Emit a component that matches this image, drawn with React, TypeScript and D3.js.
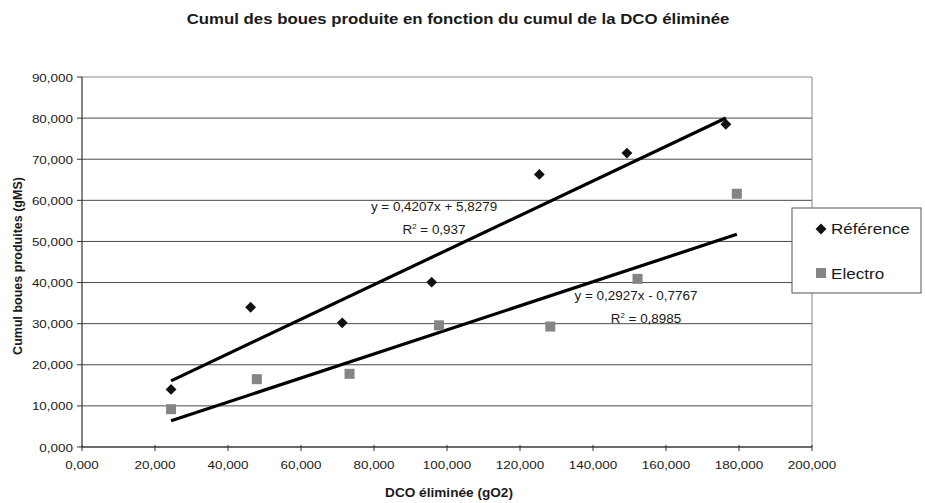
import React from "react";
import * as d3 from "d3";

// series (x = DCO éliminée, y = cumul boues)
const refX = [24.4, 46.2, 71.3, 95.8, 125.3, 149.3, 176.4];
const refY = [14.0, 34.0, 30.2, 40.1, 66.3, 71.5, 78.5];
const elecX = [24.4, 47.9, 73.3, 97.8, 128.3, 152.2, 179.4];
const elecY = [9.2, 16.5, 17.8, 29.6, 29.3, 40.9, 61.6];

// trend line coefficients [slope, intercept] as printed on the chart
const refFit = [0.4207, 5.8279];
const elecFit = [0.2927, -0.7767];

const xTicks = [0, 20, 40, 60, 80, 100, 120, 140, 160, 180, 200];
const yTicks = [0, 10, 20, 30, 40, 50, 60, 70, 80, 90];
const seriesNames = ["Référence", "Electro"];

const W = 925;
const H = 503;
const m = { left: 82, right: 812, top: 77, bottom: 447 };

const fr = d3.formatLocale({ decimal: ",", thousands: " ", grouping: [3], currency: ["", " €"] });
const fmt = fr.format(".3f");

// the scanned chart is a bit wider than plain Arial, so text gets stretched horizontally
function Txt(props: {
  x: number;
  y: number;
  size: number;
  sx?: number;
  anchor?: string;
  bold?: boolean;
  children: any;
}) {
  const { x, y, size, sx = 1.15, anchor = "start", bold, children } = props;
  return (
    <text
      transform={`translate(${x},${y}) scale(${sx},1)`}
      textAnchor={anchor}
      fontSize={size}
      fontWeight={bold ? "bold" : "normal"}
      fill="#1a1a1a"
    >
      {children}
    </text>
  );
}

export default function App() {
  const x = d3.scaleLinear().domain([0, 200]).range([m.left, m.right]);
  const y = d3.scaleLinear().domain([0, 90]).range([m.bottom, m.top]);

  const line = d3
    .line<number[]>()
    .x((d) => x(d[0]))
    .y((d) => y(d[1]));

  const fitLine = (xs: number[], fit: number[]) => {
    const lo = d3.min(xs)!;
    const hi = d3.max(xs)!;
    return line([
      [lo, fit[0] * lo + fit[1]],
      [hi, fit[0] * hi + fit[1]],
    ])!;
  };

  const diamond = d3.symbol().type(d3.symbolDiamond2).size(75)()!;
  const font = "'Liberation Sans', Arial, sans-serif";

  return (
    <svg
      width={W}
      height={H}
      style={{ position: "absolute", left: 0, top: 0, background: "#fff" }}
      fontFamily={font}
    >
      <Txt x={458} y={24} size={15} sx={1.12} anchor="middle" bold>
        Cumul des boues produite en fonction du cumul de la DCO éliminée
      </Txt>

      {/* grid */}
      {yTicks.map((t) => (
        <line
          key={"g" + t}
          x1={m.left}
          x2={m.right}
          y1={y(t)}
          y2={y(t)}
          stroke={t === 90 ? "#888" : "#4a4a4a"}
          strokeWidth={1}
        />
      ))}
      <line x1={m.right} x2={m.right} y1={m.top} y2={m.bottom} stroke="#888" />
      {/* axes */}
      <line x1={m.left} x2={m.left} y1={m.top} y2={m.bottom} stroke="#333" strokeWidth={1.2} />
      <line x1={m.left} x2={m.right} y1={m.bottom} y2={m.bottom} stroke="#333" strokeWidth={1.2} />

      {yTicks.map((t) => (
        <g key={"y" + t}>
          <line x1={m.left - 5} x2={m.left} y1={y(t)} y2={y(t)} stroke="#333" />
          <Txt x={m.left - 9} y={y(t) + 4.5} size={11.5} sx={1.17} anchor="end">
            {fmt(t)}
          </Txt>
        </g>
      ))}
      {xTicks.map((t) => (
        <g key={"x" + t}>
          <line x1={x(t)} x2={x(t)} y1={m.bottom - 2} y2={m.bottom + 4} stroke="#333" />
          <Txt x={x(t)} y={m.bottom + 22} size={11.5} sx={1.17} anchor="middle">
            {fmt(t)}
          </Txt>
        </g>
      ))}

      <text
        transform={`translate(22,266) rotate(-90)`}
        textAnchor="middle"
        fontSize={12.5}
        fontWeight="bold"
        fill="#1a1a1a"
      >
        Cumul boues produites (gMS)
      </text>
      <Txt x={449} y={497} size={12.5} sx={1.09} anchor="middle" bold>
        DCO éliminée (gO2)
      </Txt>

      {/* trend lines */}
      <path d={fitLine(refX, refFit)} stroke="#000" strokeWidth={3.2} fill="none" />
      <path d={fitLine(elecX, elecFit)} stroke="#000" strokeWidth={3.2} fill="none" />

      {/* points */}
      {refX.map((v, i) => (
        <path key={"r" + i} d={diamond} transform={`translate(${x(v)},${y(refY[i])})`} fill="#111" />
      ))}
      {elecX.map((v, i) => (
        <rect
          key={"e" + i}
          x={x(v) - 5}
          y={y(elecY[i]) - 5}
          width={10}
          height={10}
          fill="#858585"
        />
      ))}

      {/* equations */}
      <Txt x={434} y={211} size={12} sx={1.12} anchor="middle">
        y = 0,4207x + 5,8279
      </Txt>
      <Txt x={434} y={234} size={12} sx={1.12} anchor="middle">
        R<tspan dy={-5} fontSize={7}>2</tspan>
        <tspan dy={5}> = 0,937</tspan>
      </Txt>
      <Txt x={636} y={300} size={12} sx={1.12} anchor="middle">
        y = 0,2927x - 0,7767
      </Txt>
      <Txt x={646} y={323} size={12} sx={1.12} anchor="middle">
        R<tspan dy={-5} fontSize={7}>2</tspan>
        <tspan dy={5}> = 0,8985</tspan>
      </Txt>

      {/* legend */}
      <rect x={792} y={208} width={129} height={85} fill="#fff" stroke="#555" strokeWidth={1} />
      <path d={diamond} transform="translate(821,229)" fill="#111" />
      <Txt x={831} y={234} size={15} sx={1.14}>
        {seriesNames[0]}
      </Txt>
      <rect x={816} y={268} width={10} height={10} fill="#858585" />
      <Txt x={831} y={279} size={15} sx={1.14}>
        {seriesNames[1]}
      </Txt>
    </svg>
  );
}
